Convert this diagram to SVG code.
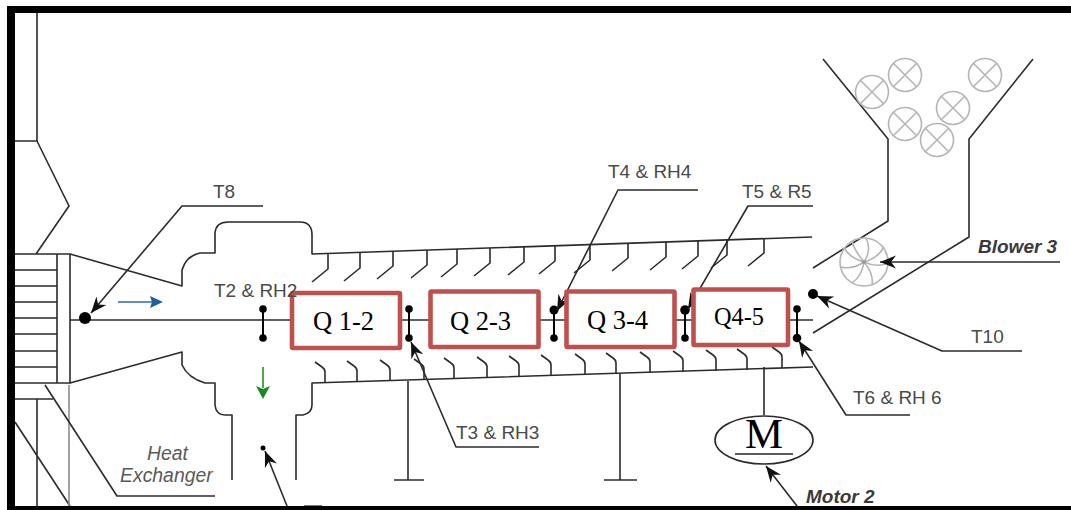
<svg xmlns="http://www.w3.org/2000/svg" width="1071" height="510" viewBox="0 0 1071 510">
<style>
.l{fill:none;stroke:#2b2b2b;stroke-width:1.6;stroke-linejoin:round;stroke-linecap:butt}
.g{fill:none;stroke:#8c8c8c;stroke-width:1.6}
.k{fill:none;stroke:#000;stroke-width:2}
.c{fill:none;stroke:#b5b5b5;stroke-width:1.6}
.q{fill:#fff;stroke:#c0504d;stroke-width:4.6}
.t{font-family:"Liberation Sans",Arial,sans-serif;font-size:19px;fill:#4a4a4a}
.i{font-family:"Liberation Sans",Arial,sans-serif;font-size:19.400px;font-style:italic;fill:#5a5a5a}
.b{font-family:"Liberation Sans",Arial,sans-serif;font-size:19px;font-style:italic;font-weight:bold;fill:#3a3a3a}
.s{font-family:"Liberation Serif","Times New Roman",serif;fill:#000}
</style>
<defs>
<marker id="ah" markerUnits="userSpaceOnUse" markerWidth="18" markerHeight="16" refX="16" refY="8" orient="auto"><path d="M0 1.500L16 8L0 14.500L5 8Z" fill="#111"/></marker>
<g id="ball"><circle r="16.5" class="c"/><path class="c" d="M-11.700 -11.700L11.700 11.700M-11.700 11.700L11.700 -11.700"/></g>
<path id="finT" class="l" d="M0 0V15L-16 28"/>
<path id="finB" class="l" d="M0 0V-11Q0 -14 -3 -16L-10 -21"/>
</defs>
<rect width="1071" height="510" fill="#fff"/>

<g id="plant">
<path class="l" d="M37 13V141H15M37 141L69 206L36 254M15 254H70V383H15M57 254V383M15 270H57M15 286H57M15 302H57M15 318H57M15 334H57M15 351H57M15 367H57M15 399H53M37 399V506M15 422L70 506"/>
<path class="g" d="M69 385V506"/>
<path class="l" d="M70 254L182 286V270Q186 256 200 253H215V233Q216 222 228 222H300Q312 222 312 235V254L812 237"/>
<path class="l" d="M70 383L182 352V365Q188 378 205 383H215V405Q216 415 225 415H232V480M296 480V415H303Q312 413 312 405V383L813 367"/>
<use href="#finT" x="328" y="254"/><use href="#finT" x="360" y="253"/><use href="#finT" x="393" y="251"/><use href="#finT" x="427" y="250"/><use href="#finT" x="457" y="249"/><use href="#finT" x="490" y="248"/><use href="#finT" x="524" y="247"/><use href="#finT" x="555" y="246"/><use href="#finT" x="590" y="245"/><use href="#finT" x="628" y="243"/><use href="#finT" x="666" y="242"/><use href="#finT" x="698" y="241"/><use href="#finT" x="727" y="240"/><use href="#finT" x="764" y="238"/>
<use href="#finB" x="325" y="383"/><use href="#finB" x="357" y="382"/><use href="#finB" x="390" y="381"/><use href="#finB" x="424" y="380"/><use href="#finB" x="454" y="379"/><use href="#finB" x="487" y="378"/><use href="#finB" x="519" y="377"/><use href="#finB" x="551" y="376"/><use href="#finB" x="585" y="375"/><use href="#finB" x="616" y="374"/><use href="#finB" x="650" y="373"/><use href="#finB" x="683" y="372"/><use href="#finB" x="716" y="371"/><use href="#finB" x="747" y="370"/><use href="#finB" x="782" y="368"/>
<path class="l" d="M408 381V480M394 480H424M620 374V480M604 480H637M764 367V415"/>
<path class="l" d="M823 59L888 139V221L813 268M1033 59L969 139V237L813 333"/>
<path d="M304 505.500H322" fill="none" stroke="#777" stroke-width="1"/>
</g>

<g id="balls">
<use href="#ball" x="872" y="92"/><use href="#ball" x="905" y="75"/><use href="#ball" x="985" y="75"/><use href="#ball" x="953" y="108"/><use href="#ball" x="905" y="124"/><use href="#ball" x="937" y="140"/>
</g>

<g id="blower-fan">
<circle class="c" cx="864" cy="262" r="24"/>
<path class="c" stroke-width="1.2" d="M864 262Q872 250 866 238M864 262Q878 258 884 247M864 262Q877 268 888 263M864 262Q874 274 872 285M864 262Q862 276 852 283M864 262Q852 270 841 267M864 262Q850 258 844 248M864 262Q854 250 852 241"/>
<circle cx="864" cy="262" r="2" fill="#999"/>
</g>

<g id="connectors">
<path class="l" d="M70 320H813"/>
<path class="k" d="M263 309V338M409 309V338M554 309V338M685 309V338M797 309V338"/>
<g fill="#000">
<circle cx="263" cy="309" r="3.800"/><circle cx="263" cy="338" r="3.800"/>
<circle cx="409" cy="309" r="3.800"/><circle cx="409" cy="338" r="3.800"/>
<circle cx="554" cy="310" r="4.500"/><circle cx="554" cy="338" r="3.800"/>
<circle cx="685" cy="310" r="4.800"/><circle cx="685" cy="338" r="3.800"/>
<circle cx="797" cy="309" r="3.800"/><circle cx="797" cy="338" r="4.300"/>
<circle cx="85" cy="318" r="6"/><circle cx="813" cy="294" r="5"/><circle cx="263" cy="448" r="2.500"/>
</g>
<path class="l" marker-end="url(#ah)" d="M263 206H182L91 313"/>
<path class="l" marker-end="url(#ah)" d="M539 447H456L411 342"/>
<path class="l" marker-end="url(#ah)" d="M698 190H618L557 311"/>
<path class="l" marker-end="url(#ah)" d="M813 206H748L688 309"/>
<path class="l" marker-end="url(#ah)" d="M1022 351H942L817 296"/>
<path class="l" marker-end="url(#ah)" d="M910 415H846L799 341"/>
<path class="l" marker-end="url(#ah)" d="M797 506L766 466"/>
<path class="l" marker-end="url(#ah)" d="M287 506L265 451"/>
<path class="l" marker-end="url(#ah)" d="M1060 262H880"/>
<path class="l" d="M45 385L117 496H215"/>
<path d="M118 302H152" fill="none" stroke="#2a6aa8" stroke-width="1.600"/>
<path d="M150 296L163 302L150 308L152 302Z" fill="#1f5f9f"/>
<path d="M263 367V388" fill="none" stroke="#2a8a2a" stroke-width="1.600"/>
<path d="M256 386L263 399L270 386L263 389Z" fill="#1e8a1e"/>
</g>

<g id="node-q12"><rect class="q" x="292" y="293" width="108" height="55" rx="1"/><text class="s" x="313" y="330" font-size="26.500">Q 1-2</text></g>
<g id="node-q23"><rect class="q" x="430.500" y="291.500" width="108" height="55.500" rx="1"/><text class="s" x="450" y="330" font-size="26.500">Q 2-3</text></g>
<g id="node-q34"><rect class="q" x="566.500" y="291.500" width="108" height="55.500" rx="1"/><text class="s" x="587" y="329" font-size="26.500">Q 3-4</text></g>
<g id="node-q45"><rect class="q" x="693.500" y="289.500" width="94.500" height="55.500" rx="1"/><text class="s" x="714" y="325" font-size="24.300">Q4-5</text></g>

<g id="node-motor">
<ellipse cx="764" cy="440" rx="49" ry="24" class="l"/>
<text class="s" x="745" y="448" font-size="42" fill="#333" textLength="38" lengthAdjust="spacingAndGlyphs">M</text>
<path d="M735 454H793" fill="none" stroke="#222" stroke-width="1.400"/>
</g>

<g id="labels">
<text class="t" x="213" y="198">T8</text>
<text class="t" x="214" y="297">T2 &amp; RH2</text>
<text class="t" x="456" y="439">T3 &amp; RH3</text>
<text class="t" x="608" y="178">T4 &amp; RH4</text>
<text class="t" x="742" y="198">T5 &amp; R5</text>
<text class="t" x="971" y="343">T10</text>
<text class="t" x="853" y="404">T6 &amp; RH 6</text>
<text class="i" x="147" y="460">Heat</text>
<text class="i" x="120" y="482">Exchanger</text>
<text class="b" x="978" y="253">Blower 3</text>
<text class="b" x="806" y="503">Motor 2</text>
</g>

<g id="frame" fill="#000">
<rect x="7" y="6" width="1064" height="7"/>
<rect x="7" y="6" width="8" height="504"/>
<rect x="7" y="506" width="1064" height="4"/>
</g>
</svg>
